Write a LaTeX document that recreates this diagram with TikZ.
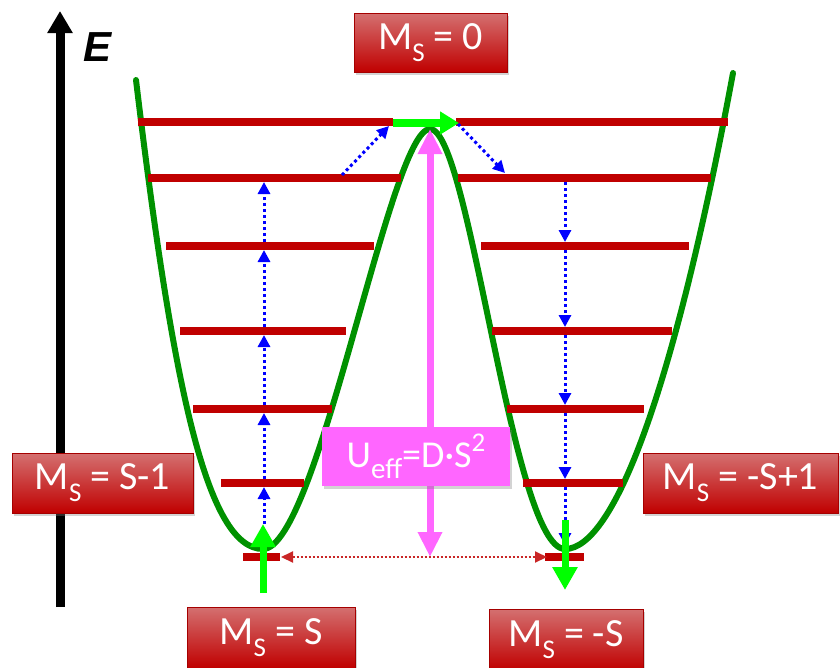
\documentclass[tikz,border=0pt]{standalone}
\usepackage{fontspec}
\setmainfont{Carlito}
\newfontfamily\arialf{Liberation Sans}
\usetikzlibrary{arrows.meta,shadows}
\definecolor{lvred}{RGB}{192,0,0}
\definecolor{crvgreen}{RGB}{0,145,0}
\definecolor{brgreen}{RGB}{0,255,0}
\definecolor{mag}{RGB}{255,102,255}
\definecolor{boxtop}{RGB}{212,112,112}
\definecolor{boxred}{RGB}{192,0,0}
\definecolor{boxedge}{RGB}{165,0,0}
\definecolor{bl}{RGB}{0,0,255}
\newcommand\msub[1]{\raisebox{-0.3em}{\fontsize{27}{27}\selectfont #1}}
\newcommand\usub[1]{\raisebox{-0.28em}{\fontsize{29}{29}\selectfont #1}}
\newcommand\usup[1]{\raisebox{0.42em}{\fontsize{27}{27}\selectfont #1}}
\begin{document}
\begin{tikzpicture}[x=1pt,y=-1pt,
  level/.style={lvred,line width=7.5pt},
  msbox/.style={draw=boxedge,line width=0.8pt,top color=boxtop,middle color=boxred,bottom color=boxred,
     drop shadow={opacity=0.35,shadow xshift=2pt,shadow yshift=-3pt},text=white,inner sep=0pt,
     font=\fontsize{40}{40}\selectfont},
  ubox/.style={fill=mag,drop shadow={opacity=0.35,shadow xshift=2pt,shadow yshift=-3pt},text=white,inner sep=0pt,
     font=\fontsize{38}{38}\selectfont},
  bluearr/.style={bl,line width=3pt,dash pattern=on 3pt off 3pt,-{Triangle[length=12pt,width=12pt]}},
  grarr/.style={brgreen,line width=7pt,-{Triangle[length=23pt,width=24pt]}},
]
\useasboundingbox (0,0) rectangle (840,667);
% energy axis
\coordinate (axb) at (60,607);
\coordinate (axt) at (60,11);
\draw[black,line width=9pt,-{Triangle[length=22pt,width=24pt]}] (axb) -- (axt);
\node[font=\arialf\bfseries\itshape\fontsize{42}{42}\selectfont,inner sep=0pt] (E) at (98,47) {E};
% double well
\coordinate (w0) at (136,80);
\coordinate (wl) at (263,549);
\coordinate (wp) at (430,129);
\coordinate (wr) at (565,549);
\coordinate (w1) at (733,73);
\draw[crvgreen,line width=6pt,line cap=round]
  (w0) .. controls (172,380) and (206,549) .. (wl)
       .. controls (318,549) and (390,129) .. (wp)
       .. controls (470,129) and (512,549) .. (wr)
       .. controls (614,549) and (674,390) .. (w1);
% levels
\draw[level] (138,122) -- (393,122);
\draw[level] (456,122) -- (728,122);
\draw[level] (148,178) -- (401,178);
\draw[level] (458,178) -- (711,178);
\draw[level] (166,246) -- (374,246);
\draw[level] (481,246) -- (689,246);
\draw[level] (180,331) -- (346,331);
\draw[level] (492,331) -- (672,331);
\draw[level] (193,409) -- (332,409);
\draw[level] (507,409) -- (644,409);
\draw[level] (221,483) -- (304,483);
\draw[level] (523,483) -- (623,483);
\draw[level] (243,557) -- (280,557);
\draw[level] (545,557) -- (584,557);
% blue transitions, left well (up)
\coordinate (l0) at (264,524);
\coordinate (l1) at (264,487);
\coordinate (l1b) at (264,479);
\coordinate (l2) at (264,413);
\coordinate (l2b) at (264,405);
\coordinate (l3) at (264,335);
\coordinate (l3b) at (264,327);
\coordinate (l4) at (264,250);
\coordinate (l4b) at (264,242);
\coordinate (l5) at (264,182);
\draw[bluearr] (l0) -- (l1);
\draw[bluearr] (l1b) -- (l2);
\draw[bluearr] (l2b) -- (l3);
\draw[bluearr] (l3b) -- (l4);
\draw[bluearr] (l4b) -- (l5);
\coordinate (d1a) at (342,175);
\coordinate (d1b) at (389,126);
\draw[bluearr] (d1a) -- (d1b);
\coordinate (d2a) at (458,124);
\coordinate (d2b) at (505,173);
\draw[bluearr] (d2a) -- (d2b);
% blue transitions, right well (down)
\coordinate (r5) at (565,182);
\coordinate (r4) at (565,242);
\coordinate (r4b) at (565,250);
\coordinate (r3) at (565,327);
\coordinate (r3b) at (565,335);
\coordinate (r2) at (565,405);
\coordinate (r2b) at (565,413);
\coordinate (r1) at (565,479);
\coordinate (r1b) at (565,487);
\coordinate (r0) at (565,545);
\draw[bluearr] (r5) -- (r4);
\draw[bluearr] (r4b) -- (r3);
\draw[bluearr] (r3b) -- (r2);
\draw[bluearr] (r2b) -- (r1);
\draw[bluearr] (r1b) -- (r0);
% tunnelling
\coordinate (tl) at (281,557);
\coordinate (tr) at (547,557);
\draw[lvred!85,line width=2pt,dash pattern=on 2pt off 2pt,{Triangle[length=12pt,width=11pt]}-{Triangle[length=12pt,width=11pt]}] (tl) -- (tr);
% barrier
\coordinate (ub) at (430,557);
\coordinate (ut) at (430,129);
\draw[mag,line width=7pt,{Triangle[length=25pt,width=23pt]}-{Triangle[length=25pt,width=23pt]}] (ub) -- (ut);
% spin arrows
\coordinate (gl0) at (263,593);
\coordinate (gl1) at (263,524);
\draw[grarr] (gl0) -- (gl1);
\coordinate (gr0) at (565,520);
\coordinate (gr1) at (565,590);
\draw[grarr] (gr0) -- (gr1);
\coordinate (gt0) at (393,123);
\coordinate (gt1) at (459,123);
\draw[brgreen,line width=8pt,-{Triangle[length=19pt,width=22pt]}] (gt0) -- (gt1);
% labels
\node[ubox,minimum width=188pt,minimum height=59pt] (U) at (416,456.5) {U\usub{eff}=D·S\usup{2}};
\node[msbox,minimum width=153pt,minimum height=59pt] (m0) at (430.5,42.5) {M\msub{S} = 0};
\node[msbox,minimum width=181pt,minimum height=60pt] (m1) at (102.5,483) {M\msub{S} = S-1};
\node[msbox,minimum width=195pt,minimum height=60pt] (m2) at (740.5,483) {M\msub{S} = -S+1};
\node[msbox,minimum width=168pt,minimum height=61pt] (m3) at (271,637.5) {M\msub{S} = S};
\node[msbox,minimum width=154pt,minimum height=61pt] (m4) at (566,639.5) {M\msub{S} = -S};
\end{tikzpicture}
\end{document}
